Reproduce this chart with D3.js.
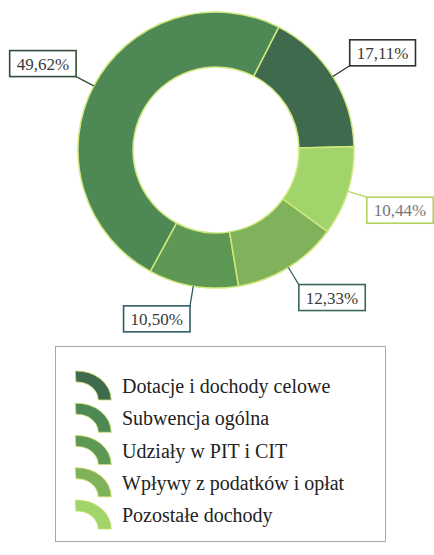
<!DOCTYPE html>
<html>
<head>
<meta charset="utf-8">
<script src="https://cdn.jsdelivr.net/npm/d3@7"></script>
<style>
  html, body { margin: 0; padding: 0; background: #fff; }
  svg { display: block; }
  text { font-family: "Liberation Serif", "Times New Roman", Times, serif; }
</style>
</head>
<body>
<div id="chart"></div>
<script>
// Struktura dochodów (kolejność jak w legendzie)
const categories = [
  "Dotacje i dochody celowe",
  "Subwencja ogólna",
  "Udziały w PIT i CIT",
  "Wpływy z podatków i opłat",
  "Pozostałe dochody"
];
const shares = [17.11, 49.62, 10.50, 12.33, 10.44];
const shareLabels = ["17,11%", "49,62%", "10,50%", "12,33%", "10,44%"];
const colors = ["#3f6a4e", "#4e8955", "#5d9854", "#7fb25a", "#a2d46c"];
const labelBorders = ["#2a332c", "#2f4d38", "#2f5e66", "#3b6858", "#b2d35c"];

const width = 434, height = 555;
const cx = 216, cy = 150;
const outerR = 138, innerR = 83;

const svg = d3.select("#chart").append("svg")
  .attr("width", width)
  .attr("height", height);

// slices run counter-clockwise starting from ~3 o'clock
const startDeg = 88.6;
const pie = d3.pie()
  .sort(null)
  .value(d => d)
  .startAngle(startDeg * Math.PI / 180)
  .endAngle((startDeg - 360) * Math.PI / 180);

const arcs = pie(shares);
const arc = d3.arc().innerRadius(innerR).outerRadius(outerR);

const g = svg.append("g").attr("transform", `translate(${cx},${cy})`);

g.selectAll("path.slice")
  .data(arcs)
  .enter()
  .append("path")
  .attr("class", "slice")
  .attr("d", arc)
  .attr("fill", (d, i) => colors[i])
  .attr("stroke", "#cfe87c")
  .attr("stroke-width", 1.5);

// labels with leader lines
arcs.forEach((d, i) => {
  const mid = (d.startAngle + d.endAngle) / 2;
  const sx = Math.sin(mid), sy = -Math.cos(mid);
  const p0 = [sx * outerR, sy * outerR];
  const p1 = [sx * 158, sy * 158];

  g.append("line")
    .attr("x1", p0[0]).attr("y1", p0[1])
    .attr("x2", p1[0]).attr("y2", p1[1])
    .attr("stroke", labelBorders[i])
    .attr("stroke-width", 1.3);

  const box = g.append("rect");
  const t = g.append("text")
    .style("font-size", "17px")
    .attr("fill", i === 4 ? "#777" : "#3a3a3a")
    .text(shareLabels[i]);
  const bb = t.node().getBBox();
  const bw = bb.width + 14, bh = 26;
  const bx = p1[0] >= 0 ? p1[0] : p1[0] - bw;
  const by = p1[1] < 0 ? p1[1] - bh : p1[1];

  box.attr("x", bx).attr("y", by)
    .attr("width", bw).attr("height", bh)
    .attr("fill", "#fff")
    .attr("stroke", labelBorders[i])
    .attr("stroke-width", 1.6);
  t.attr("x", bx + bw / 2)
    .attr("y", by + bh / 2 + 6)
    .attr("text-anchor", "middle");
});

// legend
const legend = svg.append("g");
legend.append("rect")
  .attr("x", 55.5).attr("y", 346.5)
  .attr("width", 330).attr("height", 195)
  .attr("fill", "none")
  .attr("stroke", "#a8a8a8")
  .attr("stroke-width", 1);

const rowY = d3.scaleLinear().domain([0, 4]).range([386, 515]);
const iconArc = d3.arc().innerRadius(18).outerRadius(29)
  .startAngle(-0.05).endAngle(Math.PI / 2);

categories.forEach((c, i) => {
  const y = rowY(i);
  legend.append("path")
    .attr("d", iconArc())
    .attr("transform", `translate(77,${y + 14}) scale(1.18,1)`)
    .attr("fill", colors[i])
    .attr("stroke", "#c9e070")
    .attr("stroke-width", 0.8);
  legend.append("text")
    .attr("x", 122)
    .attr("y", y + 7)
    .style("font-size", "20px")
    .attr("fill", "#222")
    .text(c);
});
</script>
</body>
</html>
